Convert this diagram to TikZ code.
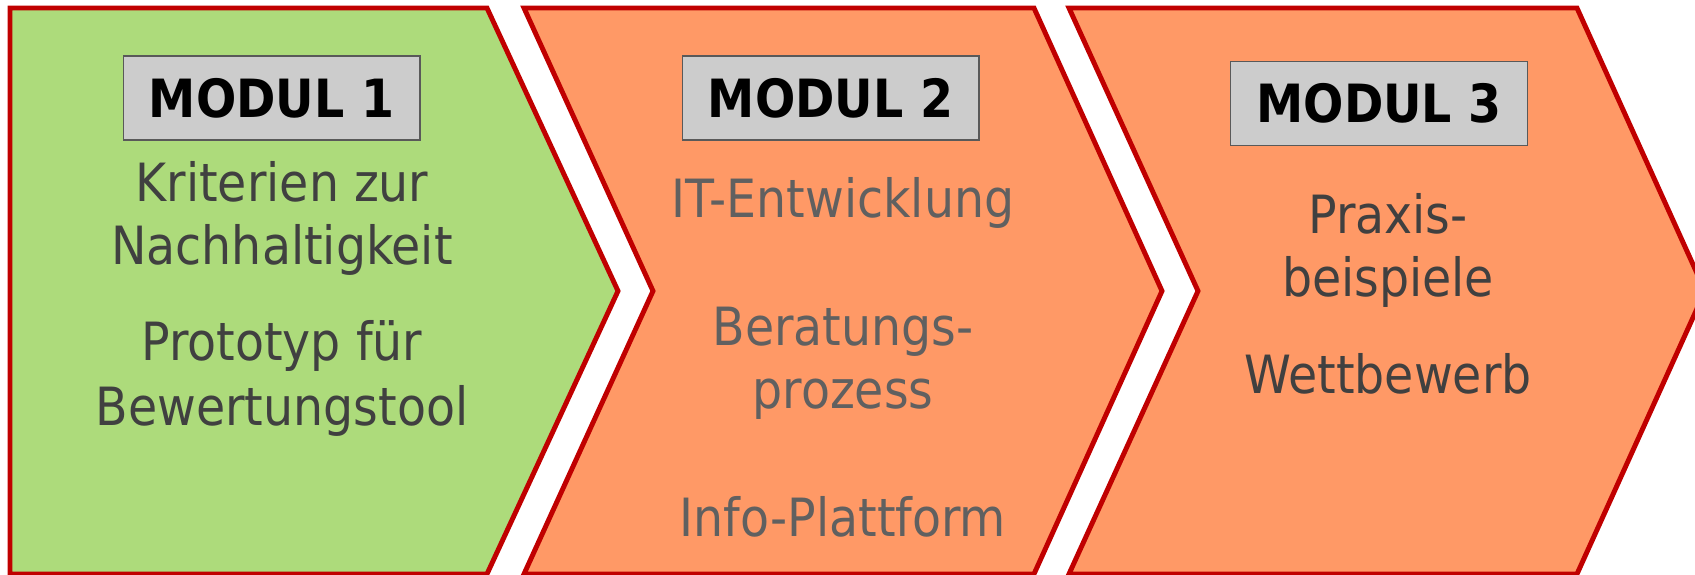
\documentclass[tikz,border=0pt]{standalone}
\usepackage{fontspec}
\setmainfont{DejaVu Sans Condensed}
\definecolor{modgreen}{HTML}{ADDB7B}
\definecolor{modorange}{HTML}{FF9966}
\definecolor{modred}{HTML}{C00000}
\definecolor{txtdark}{HTML}{404040}
\definecolor{txtgray}{HTML}{606060}
\begin{document}
\begin{tikzpicture}[x=0.02cm,y=-0.02cm,
  chevron/.style={draw=modred,line width=2.8pt,line join=miter},
  modlabel/.style={draw=black!65,fill=black!20,line width=0.6pt,
    minimum width=5.94cm,minimum height=1.68cm,
    font=\fontsize{30}{36}\selectfont\bfseries,text=black},
  item/.style={anchor=base,inner sep=0pt,font=\fontsize{30}{36}\selectfont,text=txtdark},
  itemlight/.style={item,text=txtgray}]
  \useasboundingbox (0,0) rectangle (1695,575);
  \clip (0,0) rectangle (1695,575);
  % chevrons
  \draw[chevron,fill=modgreen] (10,8) -- (487,8) -- (618,291) -- (487,574) -- (10,574) -- cycle;
  \draw[chevron,fill=modorange] (524,8) -- (1034,8) -- (1162,291) -- (1034,574) -- (524,574) -- (653,291) -- cycle;
  \draw[chevron,fill=modorange] (1069,8) -- (1577,8) -- (1705,291) -- (1577,574) -- (1069,574) -- (1198,291) -- cycle;
  % module labels
  \node[modlabel] (M1) at (271.5,98) {MODUL 1};
  \node[modlabel] (M2) at (830.5,98) {MODUL 2};
  \node[modlabel] (M3) at (1379,103.5) {MODUL 3};
  % modul 1
  \node[item] (krit) at (282,201) {Kriterien zur};
  \node[item] (nach) at (282,264) {Nachhaltigkeit};
  \node[item] (proto) at (282,360) {Prototyp für};
  \node[item] (bew) at (282,425) {Bewertungstool};
  % modul 2
  \node[itemlight] (it) at (843,217) {IT-Entwicklung};
  \node[itemlight] (ber) at (843,345) {Beratungs-};
  \node[itemlight] (proz) at (843,408) {prozess};
  \node[itemlight] (info) at (843,536) {Info-Plattform};
  % modul 3
  \node[item] (prax) at (1388,233) {Praxis-};
  \node[item] (beisp) at (1388,296) {beispiele};
  \node[item] (wett) at (1388,393) {Wettbewerb};
\end{tikzpicture}
\end{document}
